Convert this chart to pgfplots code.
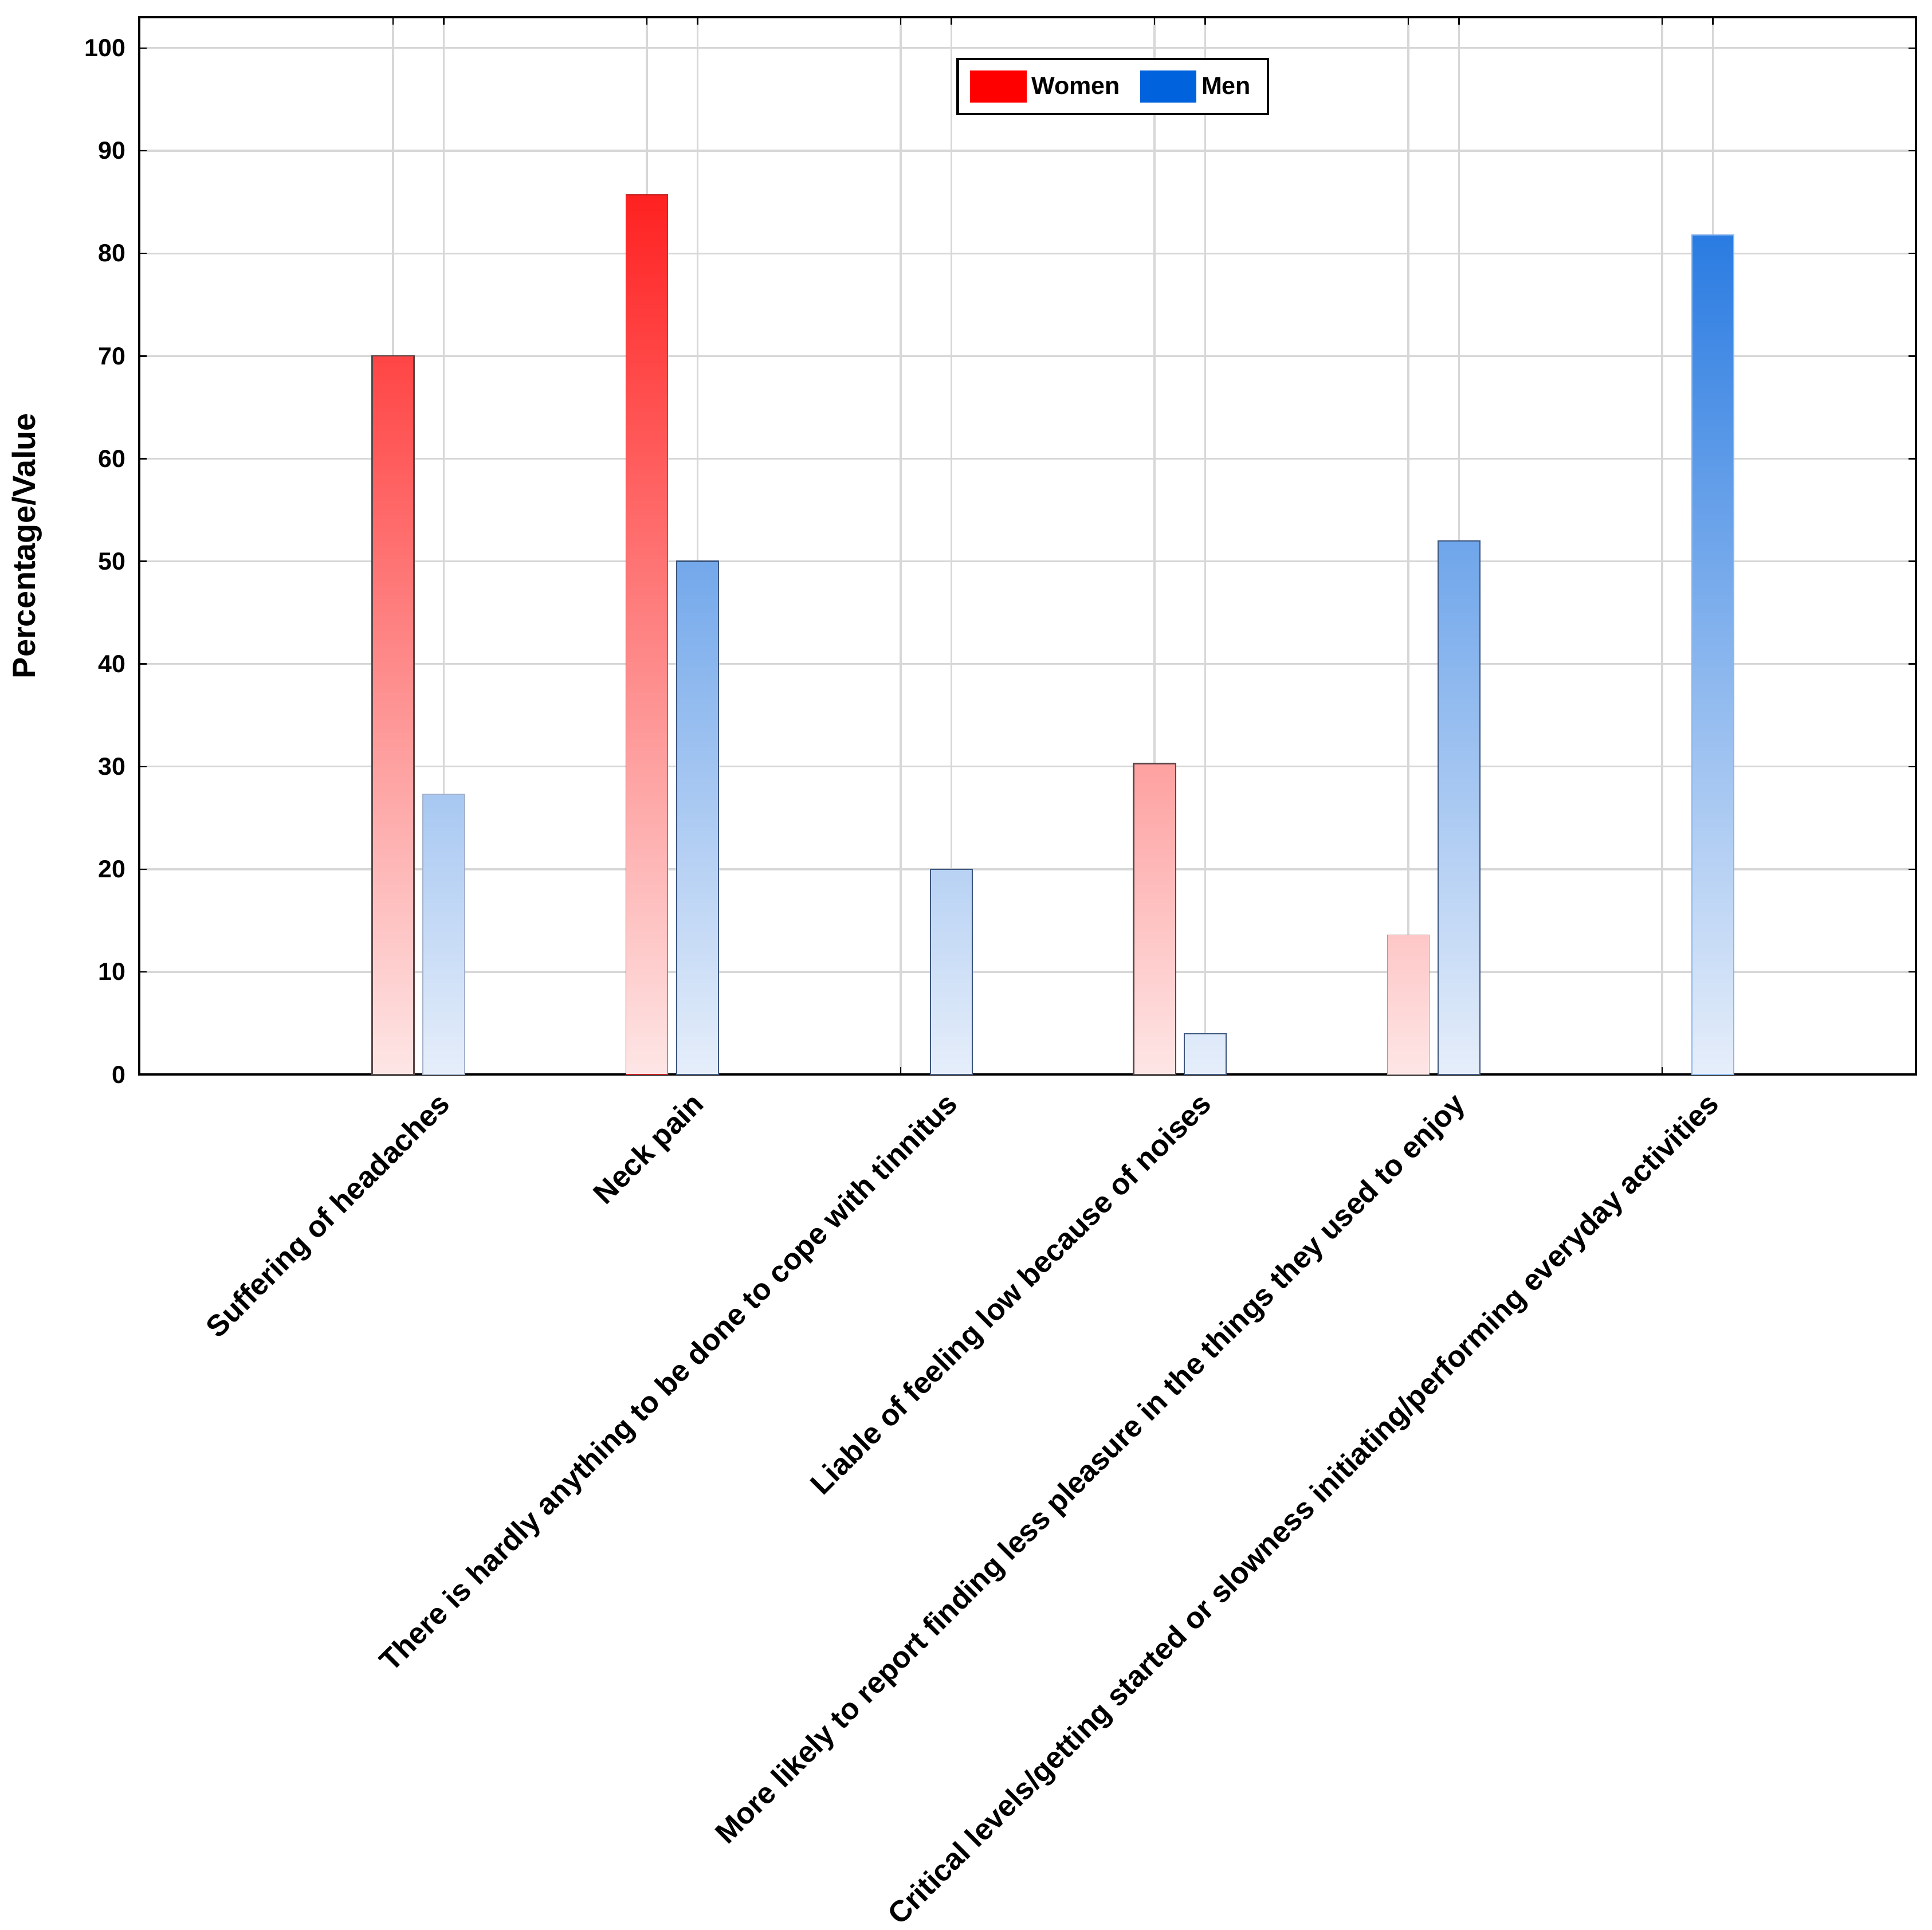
\documentclass[border=0pt]{standalone}
\usepackage{pgfplots}
\pgfplotsset{compat=1.18}
\usepackage{fontspec}
\setmainfont{Liberation Sans}
\definecolor{WFull}{RGB}{255,0,0}
\definecolor{WLow}{RGB}{254,230,230}
\definecolor{MFull}{RGB}{0,98,220}
\definecolor{MLow}{RGB}{230,238,250}
\definecolor{gridgray}{RGB}{215,215,215}
\definecolor{WEdge}{RGB}{90,70,70}
\definecolor{MEdge}{RGB}{60,85,125}
\begin{document}
\begin{tikzpicture}
\useasboundingbox (-56.5pt,-347pt) rectangle (727.5pt,436pt);
\begin{axis}[
  width=721pt, height=429pt, scale only axis,
  xmin=-0.1, xmax=6.9, ymin=0, ymax=103,
  ytick={0,10,...,100},
  xtick={0.9,1.1,1.9,2.1,2.9,3.1,3.9,4.1,4.9,5.1,5.9,6.1},
  xticklabels={{},Suffering of headaches,{},Neck pain,{},There is hardly anything to be done to cope with tinnitus,{},Liable of feeling low because of noises,{},More likely to report finding less pleasure in the things they used to enjoy,{},Critical levels/getting started or slowness initiating/performing everyday activities},
  /pgf/number format/assume math mode=true,
  grid=major, major grid style={gridgray, line width=0.75pt},
  tick align=inside, major tick length=3pt,
  tick style={black, line width=0.6pt},
  axis line style={line width=1pt},
  yticklabel style={font=\bfseries\fontsize{10}{12}\selectfont, xshift=-2pt},
  xticklabel style={font=\bfseries\fontsize{12.1}{14}\selectfont, xshift=-3pt, yshift=-3.5pt, rotate=45, anchor=north east, inner sep=2pt},
  ylabel={Percentage/Value},
  ylabel style={font=\bfseries\fontsize{13}{15}\selectfont, at={(axis description cs:-0.063,0.5)}, anchor=center},
  legend image code/.code={\fill[#1] (0pt,-6pt) rectangle (23pt,7pt);},
  legend style={at={(0.548,0.9615)}, anchor=north, draw=black, line width=1pt,
    font=\bfseries\fontsize{10}{12}\selectfont, inner xsep=5pt, inner ysep=4.5pt,
    /tikz/every even column/.append style={column sep=6pt}},
  legend columns=2,
]
% Women
\addplot[ybar, bar width=0.165, bar shift=0pt, draw=WEdge, line width=0.5pt, top color=WFull!70!WLow, bottom color=WLow, forget plot] coordinates {(0.9,70)};
\addplot[ybar, bar width=0.165, bar shift=0pt, draw=WEdge!40!WFull, line width=0.4pt, top color=WFull!85.7!WLow, bottom color=WLow, forget plot] coordinates {(1.9,85.7)};
\addplot[ybar, bar width=0.165, bar shift=0pt, draw=WEdge, line width=0.5pt, top color=WFull!30.3!WLow, bottom color=WLow, forget plot] coordinates {(3.9,30.3)};
\addplot[ybar, bar width=0.165, bar shift=0pt, draw=WEdge!50!WLow, line width=0.4pt, top color=WFull!13.6!WLow, bottom color=WLow, forget plot] coordinates {(4.9,13.6)};
% Men
\addplot[ybar, bar width=0.165, bar shift=0pt, draw=MEdge!40!MLow, line width=0.4pt, top color=MFull!27.3!MLow, bottom color=MLow, forget plot] coordinates {(1.1,27.3)};
\addplot[ybar, bar width=0.165, bar shift=0pt, draw=MEdge, line width=0.5pt, top color=MFull!50!MLow, bottom color=MLow, forget plot] coordinates {(2.1,50)};
\addplot[ybar, bar width=0.165, bar shift=0pt, draw=MEdge, line width=0.5pt, top color=MFull!20!MLow, bottom color=MLow, forget plot] coordinates {(3.1,20)};
\addplot[ybar, bar width=0.165, bar shift=0pt, draw=MEdge, line width=0.5pt, top color=MFull!4!MLow, bottom color=MLow, forget plot] coordinates {(4.1,4)};
\addplot[ybar, bar width=0.165, bar shift=0pt, draw=MEdge, line width=0.5pt, top color=MFull!52!MLow, bottom color=MLow, forget plot] coordinates {(5.1,52)};
\addplot[ybar, bar width=0.165, bar shift=0pt, draw=MFull!40!MLow, line width=0.4pt, top color=MFull!81.8!MLow, bottom color=MLow, forget plot] coordinates {(6.1,81.8)};
\addlegendimage{fill=WFull, draw=none}
\addlegendentry{Women}
\addlegendimage{fill=MFull, draw=none}
\addlegendentry{Men}
\end{axis}
\end{tikzpicture}
\end{document}
